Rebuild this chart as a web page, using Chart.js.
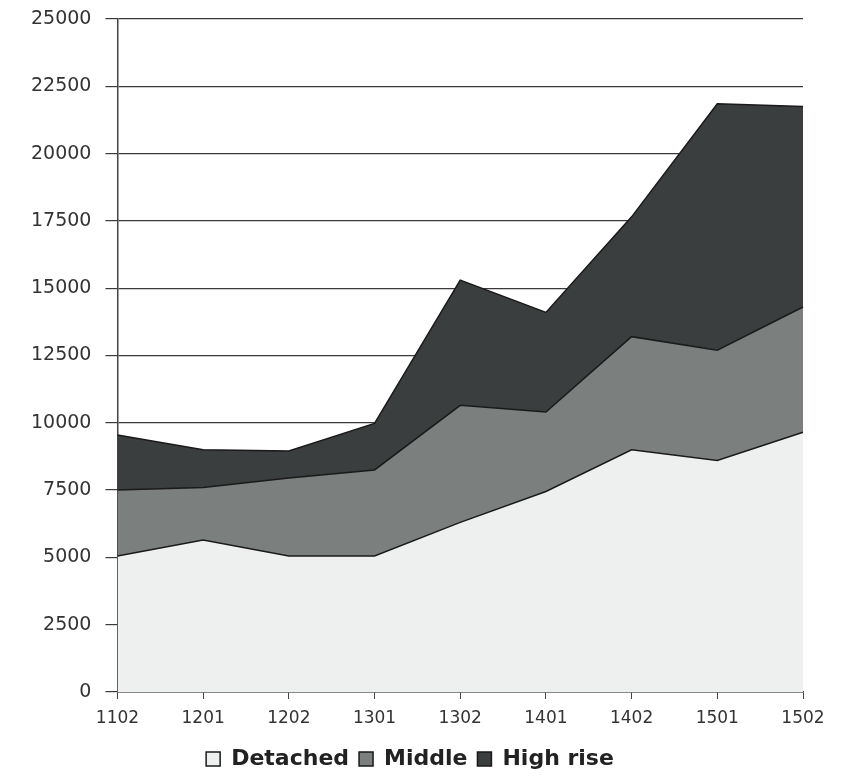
<!DOCTYPE html>
<html>
<head>
<meta charset="utf-8">
<script src="https://cdn.jsdelivr.net/npm/chart.js@4/dist/chart.umd.min.js"></script>
<style>
  html, body { margin: 0; padding: 0; background: #fff; }
  #wrap { width: 848px; height: 776px; position: relative; }
</style>
</head>
<body>
<div id="wrap"><canvas id="areaChart"></canvas></div>
<script>
// chart data
const categories = ['1102', '1201', '1202', '1301', '1302', '1401', '1402', '1501', '1502'];
const detached = [5050, 5650, 5050, 5050, 6300, 7450, 9000, 8600, 9650];
const middle = [2450, 1950, 2900, 3200, 4350, 2950, 4200, 4100, 4650];
const highRise = [2050, 1400, 1000, 1725, 4650, 3700, 4450, 9150, 7450];
const yTicks = [0, 2500, 5000, 7500, 10000, 12500, 15000, 17500, 20000, 22500, 25000];

window.addEventListener('DOMContentLoaded', () => {
    const ctx = document.getElementById('areaChart').getContext('2d');

    new Chart(ctx, {
        type: 'line',
        data: {
            labels: categories,
            datasets: [
                { label: 'Detached', data: detached, fill: 'origin', backgroundColor: '#edf0ef', borderColor: '#1a1a1a' },
                { label: 'Middle', data: middle, fill: '-1', backgroundColor: '#7b7f7e', borderColor: '#1a1a1a' },
                { label: 'High rise', data: highRise, fill: '-1', backgroundColor: '#3b3e3e', borderColor: '#1a1a1a' }
            ]
        },
        options: {
            responsive: true,
            maintainAspectRatio: false,
            animation: false,
            layout: { padding: { top: 19, left: 17, right: 45, bottom: -4 } },
            elements: {
                point: { radius: 0 },
                line: { tension: 0, borderWidth: 1.5 }
            },
            scales: {
                x: {
                    offset: false,
                    afterFit: axis => { axis.height = 46; },
                    grid: { drawOnChartArea: false, drawTicks: true, tickLength: 7, color: '#444' },
                    border: { color: '#444', width: 1.5 },
                    ticks: { color: '#333', font: { family: 'DejaVu Sans', size: 17 }, padding: 9, maxRotation: 0 }
                },
                y: {
                    stacked: true,
                    min: 0,
                    max: 25000,
                    afterBuildTicks: axis => { axis.ticks = yTicks.map(v => ({ value: v })); },
                    afterFit: axis => { axis.paddingTop = 0; },
                    grid: { color: '#3a3a3a', lineWidth: 1.2, tickLength: 12 },
                    border: { color: '#444', width: 1.5 },
                    ticks: {
                        color: '#333',
                        font: { family: 'DejaVu Sans', size: 19 },
                        padding: 14,
                        callback: v => String(v)
                    }
                }
            },
            plugins: {
                legend: {
                    position: 'bottom',
                    labels: {
                        color: '#222',
                        boxWidth: 14,
                        boxHeight: 14,
                        padding: 10,
                        font: { family: 'DejaVu Sans', size: 22, weight: 'bold' }
                    }
                },
                tooltip: { enabled: false }
            }
        }
    });
});
</script>
</body>
</html>
